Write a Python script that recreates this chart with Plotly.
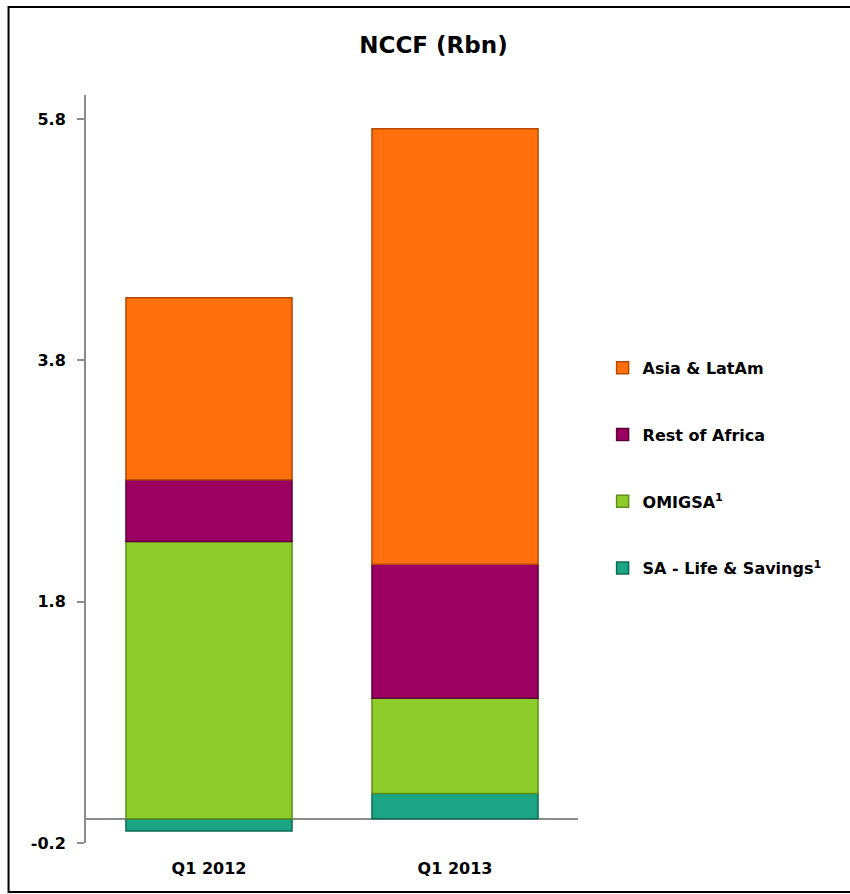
import plotly.graph_objects as go

categories = ["Q1 2012", "Q1 2013"]
sa_life = [-0.10, 0.21]
omigsa = [2.30, 0.79]
rest_africa = [0.51, 1.11]
asia_latam = [1.51, 3.61]

tick_vals = [-0.2, 1.8, 3.8, 5.8]
tick_text = ["-0.2", "1.8", "3.8", "5.8"]

series = [
    ("SA - Life & Savings<sup>1</sup>", sa_life, "#1BA584", "#0E6B53", 4),
    ("OMIGSA<sup>1</sup>", omigsa, "#8DCC2A", "#5E8F17", 3),
    ("Rest of Africa", rest_africa, "#9C0060", "#5E003A", 2),
    ("Asia & LatAm", asia_latam, "#FF700C", "#B34A00", 1),
]

FONT = "DejaVu Sans"

fig = go.Figure()
for name, vals, col, edge, rank in series:
    fig.add_trace(go.Bar(
        x=categories, y=vals, name=name,
        marker=dict(color=col, line=dict(color=edge, width=1.5)),
        width=0.675, legendgroup=name, legendrank=rank,
    ))

fig.update_layout(
    width=850, height=894,
    barmode="relative",
    paper_bgcolor="white", plot_bgcolor="white",
    margin=dict(l=86, r=272, t=95, b=51),
    font=dict(family=FONT, size=16, color="black", weight="bold"),
    title=dict(text="<b>NCCF (Rbn)</b>", x=0.51, xanchor="center",
               y=1 - 45 / 894, yanchor="middle", yref="container",
               font=dict(family=FONT, size=23, color="black")),
    showlegend=True,
    legend=dict(x=1.05, y=0.658, xanchor="left", yanchor="top",
                traceorder="grouped", tracegroupgap=43,
                font=dict(family=FONT, size=16, color="black", weight="bold"),
                itemwidth=30, bgcolor="rgba(0,0,0,0)"),
    xaxis=dict(showline=False, showgrid=False, ticks="",
               ticklabelstandoff=14,
               tickfont=dict(family=FONT, size=16, weight="bold")),
    yaxis=dict(range=[-0.2, 6.0], tickvals=tick_vals, ticktext=tick_text,
               showgrid=False, showline=True, linecolor="#8C8C8C", linewidth=2,
               ticks="outside", ticklen=7, tickcolor="#8C8C8C", tickwidth=2,
               zeroline=True, zerolinecolor="#8C8C8C", zerolinewidth=2,
               ticklabelstandoff=8,
               tickfont=dict(family=FONT, size=16, weight="bold")),
    bargap=0.325,
)

# outer frame around the chart
fig.add_shape(type="rect", xref="paper", yref="paper",
              x0=(9 - 86) / 489, x1=(848 - 86) / 489,
              y0=(843 - 892) / 748, y1=(843 - 7) / 748,
              line=dict(color="black", width=2), fillcolor="rgba(0,0,0,0)",
              layer="below")

fig.write_html("out.html")
